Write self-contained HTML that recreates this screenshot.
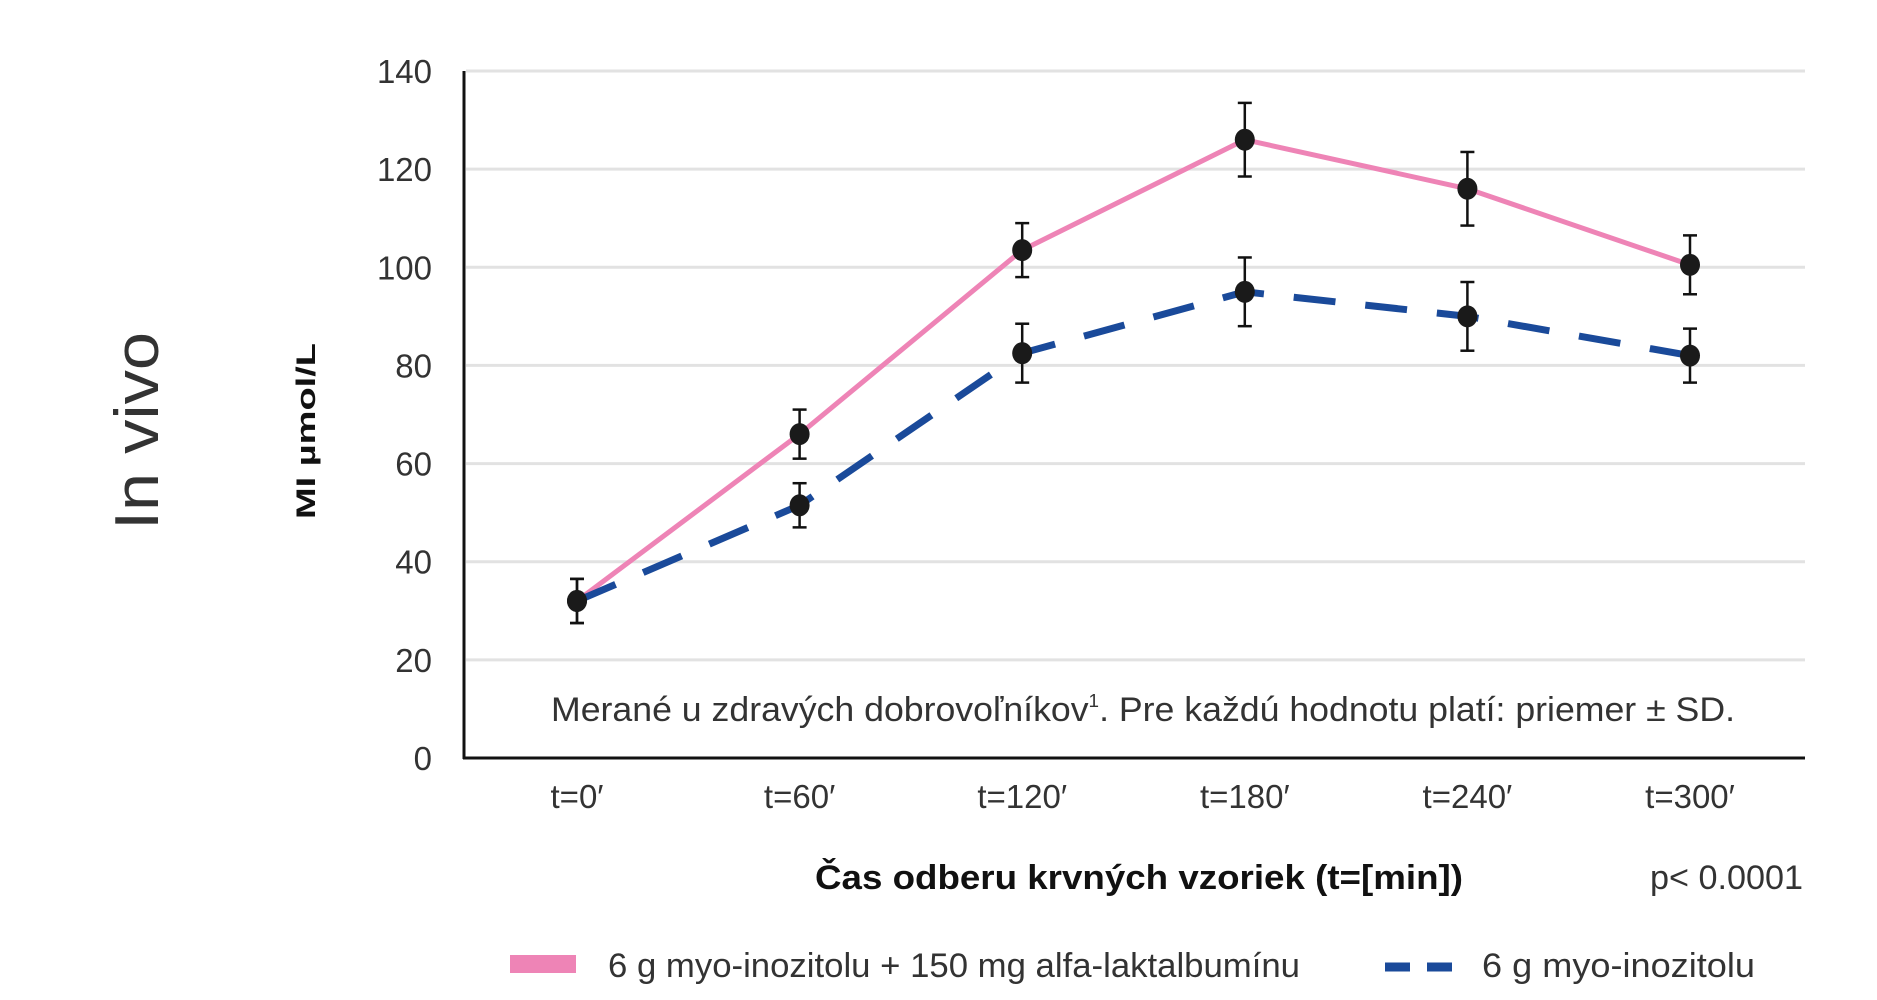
<!DOCTYPE html>
<html><head><meta charset="utf-8"><style>
html,body{margin:0;padding:0;background:#fff;}
svg{display:block;font-family:"Liberation Sans",sans-serif;}
</style></head><body>
<svg id="chart" width="1877" height="1000" viewBox="0 0 1877 1000">
<g id="grid"></g>
<g id="yticks"></g>
<g id="xticks"></g>
<g id="series"></g>
<line x1="464" y1="71" x2="464" y2="759" stroke="#111" stroke-width="3"/>
<line x1="463" y1="758" x2="1805" y2="758" stroke="#111" stroke-width="3"/>
<text transform="translate(158,431) rotate(-90)" text-anchor="middle" font-size="62" font-weight="300" fill="#333" textLength="198" lengthAdjust="spacingAndGlyphs">In vivo</text>
<text transform="translate(315,431) rotate(-90)" text-anchor="middle" font-size="27" font-weight="bold" fill="#111" textLength="176" lengthAdjust="spacingAndGlyphs">MI µmol/L</text>
<text x="551" y="721" font-size="34" fill="#333" textLength="1184" lengthAdjust="spacingAndGlyphs">Merané u zdravých dobrovoľníkov<tspan font-size="18" dy="-14">1</tspan><tspan dy="14">. Pre každú hodnotu platí: priemer ± SD.</tspan></text>
<text x="815" y="889" font-size="34" font-weight="bold" fill="#111" textLength="648" lengthAdjust="spacingAndGlyphs">Čas odberu krvných vzoriek (t=[min])</text>
<text x="1803" y="889" text-anchor="end" font-size="34" fill="#333" textLength="153" lengthAdjust="spacingAndGlyphs">p&lt; 0.0001</text>
<rect x="510" y="955" width="66" height="18" fill="#ee84b6"/>
<text x="608" y="977" font-size="34" fill="#333" textLength="692" lengthAdjust="spacingAndGlyphs">6 g myo-inozitolu + 150 mg alfa-laktalbumínu</text>
<line x1="1385" y1="967" x2="1452" y2="967" stroke="#1a4a9a" stroke-width="9" stroke-dasharray="25,17"/>
<text x="1482" y="977" font-size="34" fill="#333" textLength="273" lengthAdjust="spacingAndGlyphs">6 g myo-inozitolu</text>
</svg>
<script>
const categories = ["t=0′","t=60′","t=120′","t=180′","t=240′","t=300′"];
const comboValues = [32, 66, 103.5, 126, 116, 100.5];
const comboErrors = [4.5, 5, 5.5, 7.5, 7.5, 6];
const miValues = [32, 51.5, 82.5, 95, 90, 82];
const miErrors = [4.5, 4.5, 6, 7, 7, 5.5];
const yTicks = [0, 20, 40, 60, 80, 100, 120, 140];

const NS = "http://www.w3.org/2000/svg";
function xs(i){ return 577 + i * 222.6; }
function ys(v){ return 758 - v * (687 / 140); }
function mk(tag, attrs, parent){ const e=document.createElementNS(NS,tag); for(const k in attrs) e.setAttribute(k,attrs[k]); parent.appendChild(e); return e; }

const grid=document.getElementById('grid'), yt=document.getElementById('yticks'), xt=document.getElementById('xticks'), ser=document.getElementById('series');
yTicks.forEach(v=>{
  if(v>0){ const l=mk('line',{x1:466,x2:1805,y1:ys(v),y2:ys(v),stroke:'#e2e2e2','stroke-width':3},grid);
    
     }
  const t=mk('text',{x:432,y:ys(v)+12,'text-anchor':'end','font-size':33,fill:'#333'},yt);
  t.textContent=v;
  
  
});
categories.forEach((c,i)=>{
  const t=mk('text',{x:xs(i),y:808,'text-anchor':'middle','font-size':33,fill:'#333'},xt);
  t.textContent=c;
  
  
});
function pts(vals){ return vals.map((v,i)=>xs(i)+','+ys(v)).join(' '); }
const pl1=mk('polyline',{points:pts(comboValues),fill:'none',stroke:'#ee84b6','stroke-width':5},ser);


const pl2=mk('polyline',{points:pts(miValues),fill:'none',stroke:'#1a4a9a','stroke-width':7,'stroke-dasharray':'42,30'},ser);


function marks(vals, errs, name){
  vals.forEach((v,i)=>{
    const x=xs(i), y1=ys(v+errs[i]), y2=ys(v-errs[i]);
    const g=mk('g',{},ser);
    
    
    mk('line',{x1:x,x2:x,y1:y1,y2:y2,stroke:'#111','stroke-width':2.5},g);
    mk('line',{x1:x-7,x2:x+7,y1:y1,y2:y1,stroke:'#111','stroke-width':2.5},g);
    mk('line',{x1:x-7,x2:x+7,y1:y2,y2:y2,stroke:'#111','stroke-width':2.5},g);
    const c=mk('ellipse',{cx:x,cy:ys(v),rx:10,ry:11,fill:'#1a1a1a'},ser);
    
    
  });
}
marks(comboValues, comboErrors, 'combo');
marks(miValues, miErrors, 'mi');
</script>
</body></html>
